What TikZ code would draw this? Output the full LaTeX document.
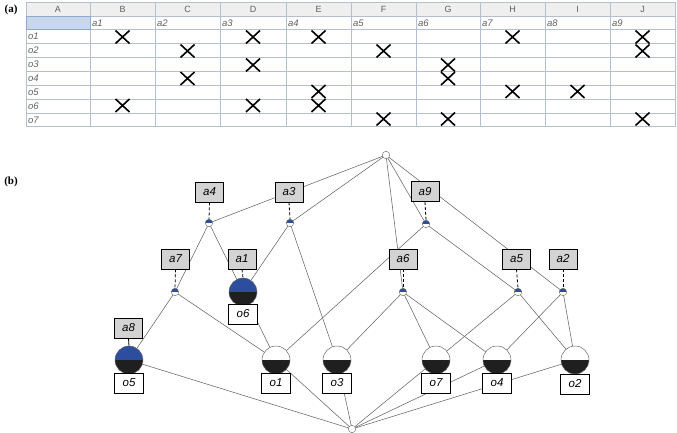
\documentclass[tikz,border=0pt]{standalone}
\usepackage{fontspec}
\setmainfont{Liberation Sans}
\newfontfamily\serifb{Liberation Serif}
\definecolor{cblue}{HTML}{2D4E9E}
\definecolor{boxgray}{HTML}{D3D3D3}
\definecolor{edgec}{HTML}{666666}
\definecolor{gridc}{HTML}{B4BFD0}
\definecolor{hdrc}{HTML}{EFEFEF}
\definecolor{selc}{HTML}{C9D7EC}
\definecolor{selb}{HTML}{8FA8D0}
\definecolor{tabtxt}{HTML}{606060}
\pgfdeclarelayer{bg}
\pgfsetlayers{bg,main}
\tikzset{
  edge/.style={draw=edgec, line width=0.55pt},
  attrbox/.style={draw=black, fill=boxgray, minimum width=28pt, minimum height=20pt, inner sep=0pt, line width=0.8pt, font=\fontsize{11.5}{12}\selectfont\itshape},
  objbox/.style={draw=black, fill=white, minimum width=29pt, minimum height=20pt, inner sep=0pt, line width=0.8pt, font=\fontsize{11.5}{12}\selectfont\itshape},
  cnode/.style={circle, minimum size=7.5pt, inner sep=0pt, fill=white, draw=edgec, line width=0.4pt,
    path picture={\fill[#1] (path picture bounding box.north west) rectangle (path picture bounding box.east);}},
  onode/.style={circle, minimum size=28pt, inner sep=0pt, fill=white, draw=edgec, line width=0.5pt,
    path picture={\fill[#1] (path picture bounding box.north west) rectangle (path picture bounding box.east);
                  \fill[black!88] (path picture bounding box.west) rectangle (path picture bounding box.south east);}},
  dashc/.style={draw=black, line width=0.8pt, dash pattern=on 3pt off 2pt},
  xmark/.style={draw=black, line width=1.6pt},
  grid/.style={draw=gridc, line width=0.6pt},
  hdrtxt/.style={text=tabtxt, font=\fontsize{9}{10}\selectfont, inner sep=0pt},
  tabtxt/.style={text=tabtxt, font=\fontsize{9.5}{10}\selectfont\itshape, inner sep=0pt, anchor=west},
  lab/.style={font=\serifb\bfseries\fontsize{11}{12}\selectfont, inner sep=0pt}
}
\begin{document}
\begin{tikzpicture}[x=1pt,y=-1pt]
\useasboundingbox (0,0) rectangle (677,433);
% ---------- (a) table ----------
\node[lab] (la) at (11,10) {(a)};
\fill[hdrc] (26,2) rectangle (675,16.7);
\fill[selc] (26,16.7) rectangle (90,29.3);
\foreach \y in {2,16.7,29.3,43.3,57,71.5,85.5,99.3,113.3,126.7}
  \draw[grid] (26,\y) -- (675,\y);
\foreach \x in {26,90,155,220,286,351,416,480,545,610,675}
  \draw[grid] (\x,2) -- (\x,126.7);
\draw[selb, line width=0.8pt] (26,16.7) rectangle (90,29.3);
\foreach \c/\x in {A/58,B/122.5,C/187.5,D/253,E/318.5,F/383.5,G/448,H/512.5,I/577.5,J/642.5}
  \node[hdrtxt] (h\c) at (\x,9.6) {\c};
\foreach \i/\x in {1/90,2/155,3/220,4/286,5/351,6/416,7/480,8/545,9/610}
  \node[tabtxt] (t\i) at (\x+2,23.2) {a\i};
\foreach \i/\y in {1/36.5,2/50.3,3/64.3,4/78.5,5/92.4,6/106.3,7/120}
  \node[tabtxt] (r\i) at (28,\y) {o\i};
\foreach \x/\y in {
  122.5/37, 253/37, 318.5/37, 512.5/37, 642.5/37,
  187.5/51, 383.5/51, 642.5/51,
  253/65, 448/65,
  187.5/78.5, 448/78.5,
  318.5/91.5, 512.5/91.5, 577.5/91.5,
  122.5/105.5, 253/105.5, 318.5/105.5,
  383.5/119, 448/119, 642.5/119}
  \draw[xmark] (\x-7,\y-6.5) -- (\x+7,\y+6.5) (\x-7,\y+6.5) -- (\x+7,\y-6.5);
% ---------- (b) lattice ----------
\node[lab] (lb) at (11,182) {(b)};
\node[cnode=white] (top) at (386,155) {};
\node[cnode=white] (bot) at (352,429) {};
\node[cnode=cblue] (n4) at (209,223) {};
\node[cnode=cblue] (n3) at (290,223) {};
\node[cnode=cblue] (n9) at (426,224) {};
\node[cnode=cblue] (n7) at (175,292) {};
\node[cnode=cblue] (n6) at (403,292) {};
\node[cnode=cblue] (n5) at (518,292) {};
\node[cnode=cblue] (n2) at (563,292) {};
\node[onode=cblue] (o6) at (243,292) {};
\node[onode=cblue] (o5) at (129,360) {};
\node[onode=white] (o1) at (276,360) {};
\node[onode=white] (o3) at (337,360) {};
\node[onode=white] (o7) at (436,360) {};
\node[onode=white] (o4) at (497,360) {};
\node[onode=white] (o2) at (575,360) {};
% attribute boxes
\node[attrbox] (a4) at (209.5,192) {a4};
\node[attrbox] (a3) at (289,192) {a3};
\node[attrbox] (a9) at (425,191.5) {a9};
\node[attrbox] (a7) at (175.5,259) {a7};
\node[attrbox] (a1) at (242,259) {a1};
\node[attrbox] (a6) at (403,259) {a6};
\node[attrbox] (a5) at (516.5,259) {a5};
\node[attrbox] (a2) at (563,259) {a2};
\node[attrbox] (a8) at (128.5,328) {a8};
% object boxes
\node[objbox] (b6) at (243,314) {o6};
\node[objbox] (b5) at (129,383) {o5};
\node[objbox] (b1) at (276,383) {o1};
\node[objbox] (b3) at (337,383) {o3};
\node[objbox] (b7) at (436,383) {o7};
\node[objbox] (b4) at (497,383) {o4};
\node[objbox] (b2) at (575,384) {o2};
% edges
\begin{pgfonlayer}{bg}
\foreach \u/\v in {top/n4,top/n3,top/n9,top/n6,top/n2,
  n4/n7,n4/o6,n3/o6,n3/o3,n9/o1,n9/n5,
  n7/o5,n7/o1,o6/o1,n6/o3,n6/o7,n6/o4,n5/o7,n5/o2,n2/o4,n2/o2,
  o5/bot,o1/bot,o3/bot,o7/bot,o4/bot,o2/bot}
  \draw[edge] (\u.center) -- (\v.center);
\end{pgfonlayer}
% attribute label links
\foreach \a/\n in {a4/n4,a3/n3,a9/n9,a7/n7,a1/o6,a6/n6,a5/n5,a2/n2}
  \draw[dashc] (\a.south) -- (\n.north);
\draw[black, line width=0.8pt] (a8.south) -- (o5.north);
\end{tikzpicture}
\end{document}
